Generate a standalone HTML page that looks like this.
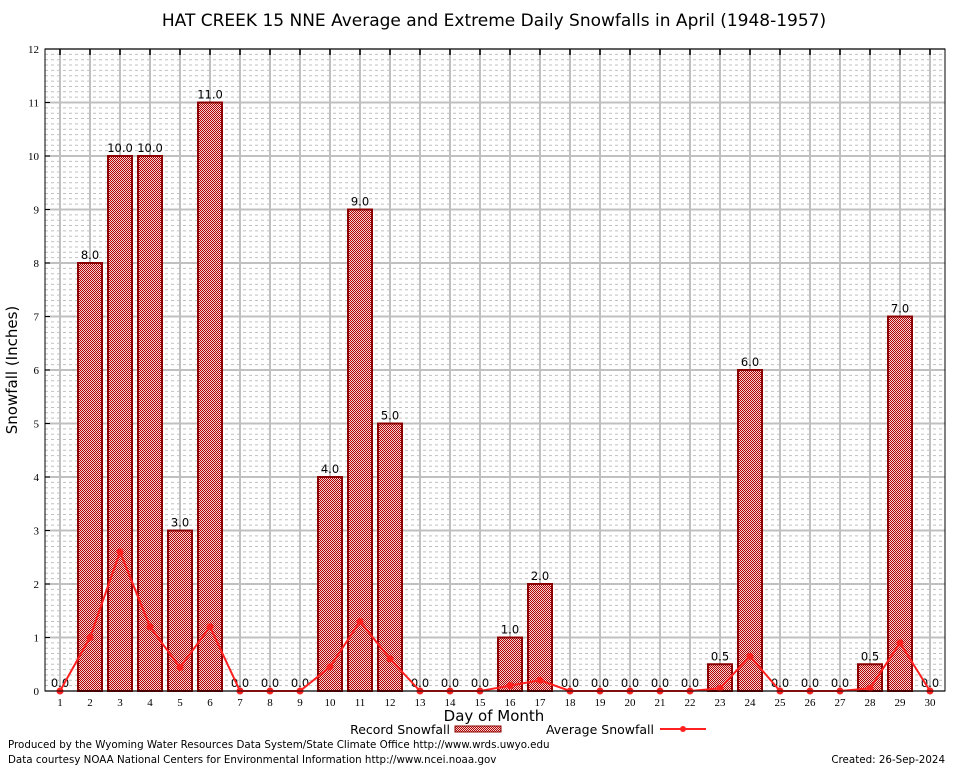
<!DOCTYPE html>
<html><head><meta charset="utf-8"><style>
body{margin:0;background:#fff;font-family:"DejaVu Sans","Liberation Sans",sans-serif;}
svg{display:block}
</style></head><body>
<svg id="c" width="954" height="768" xmlns="http://www.w3.org/2000/svg">
<defs>
<pattern id="hatch" width="2" height="2" patternUnits="userSpaceOnUse">
<rect width="2" height="2" fill="#f4d0d0"/><rect width="1" height="1" fill="#b00000"/><rect x="1" y="1" width="1" height="1" fill="#b00000"/>
</pattern>
</defs>
<rect x="0" y="0" width="954" height="768" fill="#fff"/>
<text x="494" y="26" font-size="17" text-anchor="middle" fill="#000">HAT CREEK 15 NNE Average and Extreme Daily Snowfalls in April (1948-1957)</text>
<g id="grid"></g>
<g id="bars"></g>
<g id="avg"></g>
<g id="axes"></g>
<text x="17" y="370" font-size="15" text-anchor="middle" transform="rotate(-90 17 370)">Snowfall (Inches)</text>
<text x="494" y="721" font-size="15" text-anchor="middle">Day of Month</text>
<g>
<text x="450" y="734" font-size="12.5" text-anchor="end">Record Snowfall</text>
<rect x="455" y="726" width="46" height="6" fill="url(#hatch)" stroke="#8b0000"/>
<text x="654" y="734" font-size="12.5" text-anchor="end">Average Snowfall</text>
<line x1="660" y1="729" x2="706" y2="729" stroke="#ff2020" stroke-width="2"/>
<circle cx="683" cy="729" r="3" fill="#ff2020"/>
</g>
<text x="8" y="748" font-size="10.3">Produced by the Wyoming Water Resources Data System/State Climate Office http://www.wrds.uwyo.edu</text>
<text x="8" y="763" font-size="10.3">Data courtesy NOAA National Centers for Environmental Information http://www.ncei.noaa.gov</text>
<text x="945" y="763" font-size="10.3" text-anchor="end">Created:  26-Sep-2024</text>
</svg>
<script>
const days=[1,2,3,4,5,6,7,8,9,10,11,12,13,14,15,16,17,18,19,20,21,22,23,24,25,26,27,28,29,30];
const records=[0,8,10,10,3,11,0,0,0,4,9,5,0,0,0,1,2,0,0,0,0,0,0.5,6,0,0,0,0.5,7,0];
const averages=[0,1.0,2.6,1.2,0.44,1.2,0,0,0,0.45,1.3,0.6,0,0,0,0.1,0.2,0,0,0,0,0,0.05,0.65,0,0,0,0.05,0.9,0];
const yTicks=[0,1,2,3,4,5,6,7,8,9,10,11,12];
const L=45,R=945,T=49,B=691,yMax=12;
const xs=d=>L+(d-0.5)*(R-L)/30;
const ys=v=>B-v*(B-T)/yMax;
const NS="http://www.w3.org/2000/svg";
function mk(p,tag,at){const e=document.createElementNS(NS,tag);for(const k in at)e.setAttribute(k,at[k]);p.appendChild(e);return e;}
const g=document.getElementById('grid'),gb=document.getElementById('bars'),ga=document.getElementById('avg'),gx=document.getElementById('axes');
for(let k=0;k<=yMax*10;k++){if(k%10===0)continue;const v=k/10;const l=mk(g,'line',{x1:L,x2:R,y1:ys(v),y2:ys(v),stroke:'#c0c0c0','stroke-width':1,'stroke-dasharray':'3,3'});

}
yTicks.forEach(v=>{const l=mk(g,'line',{x1:L,x2:R,y1:ys(v),y2:ys(v),stroke:'#c0c0c0','stroke-width':2});


const tk=mk(gx,'line',{x1:L,x2:L+5,y1:ys(v),y2:ys(v),stroke:'#000'});


const t=mk(gx,'text',{x:L-6,y:ys(v)+4,'font-size':11,'text-anchor':'end','font-family':'Liberation Serif,serif'});t.textContent=v;

});
days.forEach(d=>{const l=mk(g,'line',{x1:xs(d),x2:xs(d),y1:T,y2:B,stroke:'#c0c0c0','stroke-width':2});


const tk=mk(gx,'line',{x1:xs(d),x2:xs(d),y1:T,y2:T+6,stroke:'#000','stroke-width':1.5});


const t=mk(gx,'text',{x:xs(d),y:B+15,'font-size':11,'text-anchor':'middle','font-family':'Liberation Serif,serif'});t.textContent=d;

});
days.forEach((d,i)=>{const v=records[i];
if(v>0){const r=mk(gb,'rect',{x:xs(d)-12,y:ys(v),width:24,height:B-ys(v),fill:'url(#hatch)',stroke:'#8b0000','stroke-width':2});

}
const t=mk(gb,'text',{x:xs(d),y:ys(v)-4,'font-size':11.5,'text-anchor':'middle'});t.textContent=v.toFixed(1);

});
const pts=days.map((d,i)=>xs(d)+','+ys(averages[i])).join(' ');
const pl=mk(ga,'polyline',{points:pts,fill:'none',stroke:'#ff2020','stroke-width':2});


days.forEach((d,i)=>{const c=mk(ga,'circle',{cx:xs(d),cy:ys(averages[i]),r:3.5,fill:'#ff2020'});

});
const fr=mk(gx,'rect',{x:L,y:T,width:R-L,height:B-T,fill:'none',stroke:'#000','stroke-width':1});


</script>
</body></html>
